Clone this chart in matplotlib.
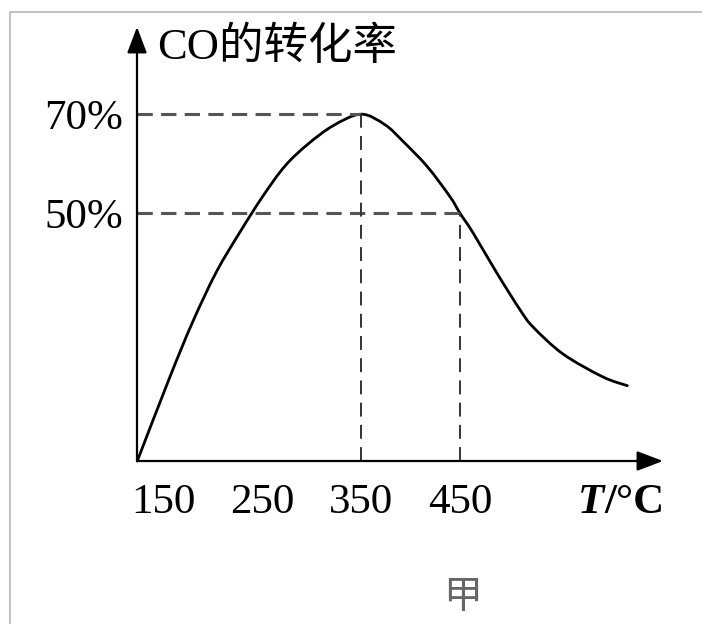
import matplotlib
matplotlib.use("Agg")
import matplotlib.pyplot as plt
from matplotlib.lines import Line2D
from matplotlib.path import Path
from matplotlib.patches import PathPatch

plt.rcParams['lines.scale_dashes'] = False

# ---- data ----
temp = [124, 157, 180, 204, 228, 251, 273, 296, 322, 350, 374, 392,
        417, 440, 450, 463, 487, 511, 524, 554, 594, 619]
conv = [0.0, 17.0, 28.1, 38.2, 46.3, 53.5, 59.5, 63.9, 67.7, 70.0, 67.9, 64.6,
        59.4, 53.3, 50.0, 46.1, 38.0, 30.4, 27.0, 21.6, 17.0, 15.2]
x_ticks = [150, 250, 350, 450]
x_tick_labels = ["150", "250", "350", "450"]
y_ticks = [50, 70]
y_tick_labels = ["50%", "70%"]
peak_T, peak_v = 350, 70
half_T, half_v = 450, 50
y_title = "CO的转化率"
x_unit_T = "T"
x_unit_rest = "/°C"
caption = "甲"

W, H = 702, 624
fig = plt.figure(figsize=(W / 100, H / 100), dpi=100)
fig.patch.set_facecolor("white")

x0, x1 = 123.7, 655.0
y0, y1 = 0.0, 87.6
ax = fig.add_axes([137 / W, (H - 461) / H, (663 - 137) / W, 434 / H])
ax.set_xlim(x0, x1)
ax.set_ylim(y0, y1)
for s in ax.spines.values():
    s.set_visible(False)
ax.patch.set_alpha(0)

serif = ['Liberation Serif', 'Noto Sans CJK SC']

ax.set_xticks(x_ticks)
ax.set_xticklabels(x_tick_labels, fontsize=31, family=serif)
ax.set_yticks(y_ticks)
ax.set_yticklabels(y_tick_labels, fontsize=31, family=serif)
ax.tick_params(axis='x', length=0, pad=16)
ax.tick_params(axis='y', length=0, pad=10)

# axes with arrows
arrow_kw = dict(arrowstyle='-|>,head_length=1.0,head_width=0.38', lw=1.6,
                color='black', shrinkA=0, shrinkB=0, mutation_scale=16)
ax.annotate('', xy=(x1, 0), xytext=(x0, 0), arrowprops=arrow_kw,
            annotation_clip=False)
ax.annotate('', xy=(x0, y1), xytext=(x0, 0), arrowprops=arrow_kw,
            annotation_clip=False)

# dashed guide lines
hcol = '#555555'
ax.plot([x0, peak_T], [peak_v, peak_v], color=hcol, lw=2.2, dashes=(11, 6))
ax.plot([x0, half_T], [half_v, half_v], color=hcol, lw=2.2, dashes=(11, 6))
ax.plot([peak_T, peak_T], [0, peak_v], color='#333333', lw=1.4, dashes=(10, 6))
ax.plot([half_T, half_T], [0, half_v], color='#333333', lw=1.4, dashes=(10, 6))

# smooth curve through the read points (Catmull-Rom drawn as cubic Bezier)
verts = [(temp[0], conv[0])]
codes = [Path.MOVETO]
n = len(temp)
for i in range(n - 1):
    p0 = (temp[max(i - 1, 0)], conv[max(i - 1, 0)])
    p1 = (temp[i], conv[i])
    p2 = (temp[i + 1], conv[i + 1])
    p3 = (temp[min(i + 2, n - 1)], conv[min(i + 2, n - 1)])
    c1 = (p1[0] + (p2[0] - p0[0]) / 6, p1[1] + (p2[1] - p0[1]) / 6)
    c2 = (p2[0] - (p3[0] - p1[0]) / 6, p2[1] - (p3[1] - p1[1]) / 6)
    verts += [c1, c2, p2]
    codes += [Path.CURVE4] * 3
ax.add_patch(PathPatch(Path(verts, codes), facecolor='none', edgecolor='black',
                       lw=2.0, joinstyle='round', capstyle='round',
                       clip_on=False))

# texts
fig.text(157 / W, 1 - 47 / H, y_title, fontsize=32, family=serif,
         ha='left', va='center')
fig.text(578 / W, 1 - 503 / H, x_unit_T, fontsize=31, family=serif,
         style='italic', weight='bold', ha='left', va='center')
fig.text(604 / W, 1 - 503 / H, x_unit_rest, fontsize=31, family=serif,
         weight='bold', ha='left', va='center')
fig.text(463 / W, 1 - 597 / H, caption, fontsize=28, family=['Noto Sans CJK SC'],
         color='#666666', ha='center', va='center')

# gray frame (top and left)
fig.add_artist(Line2D([10 / W, 10 / W, 1.0], [0.0, 1 - 12 / H, 1 - 12 / H],
                      transform=fig.transFigure, color='#c4c4c4', lw=1.5))

fig.savefig("out.png", dpi=100, facecolor='white')
